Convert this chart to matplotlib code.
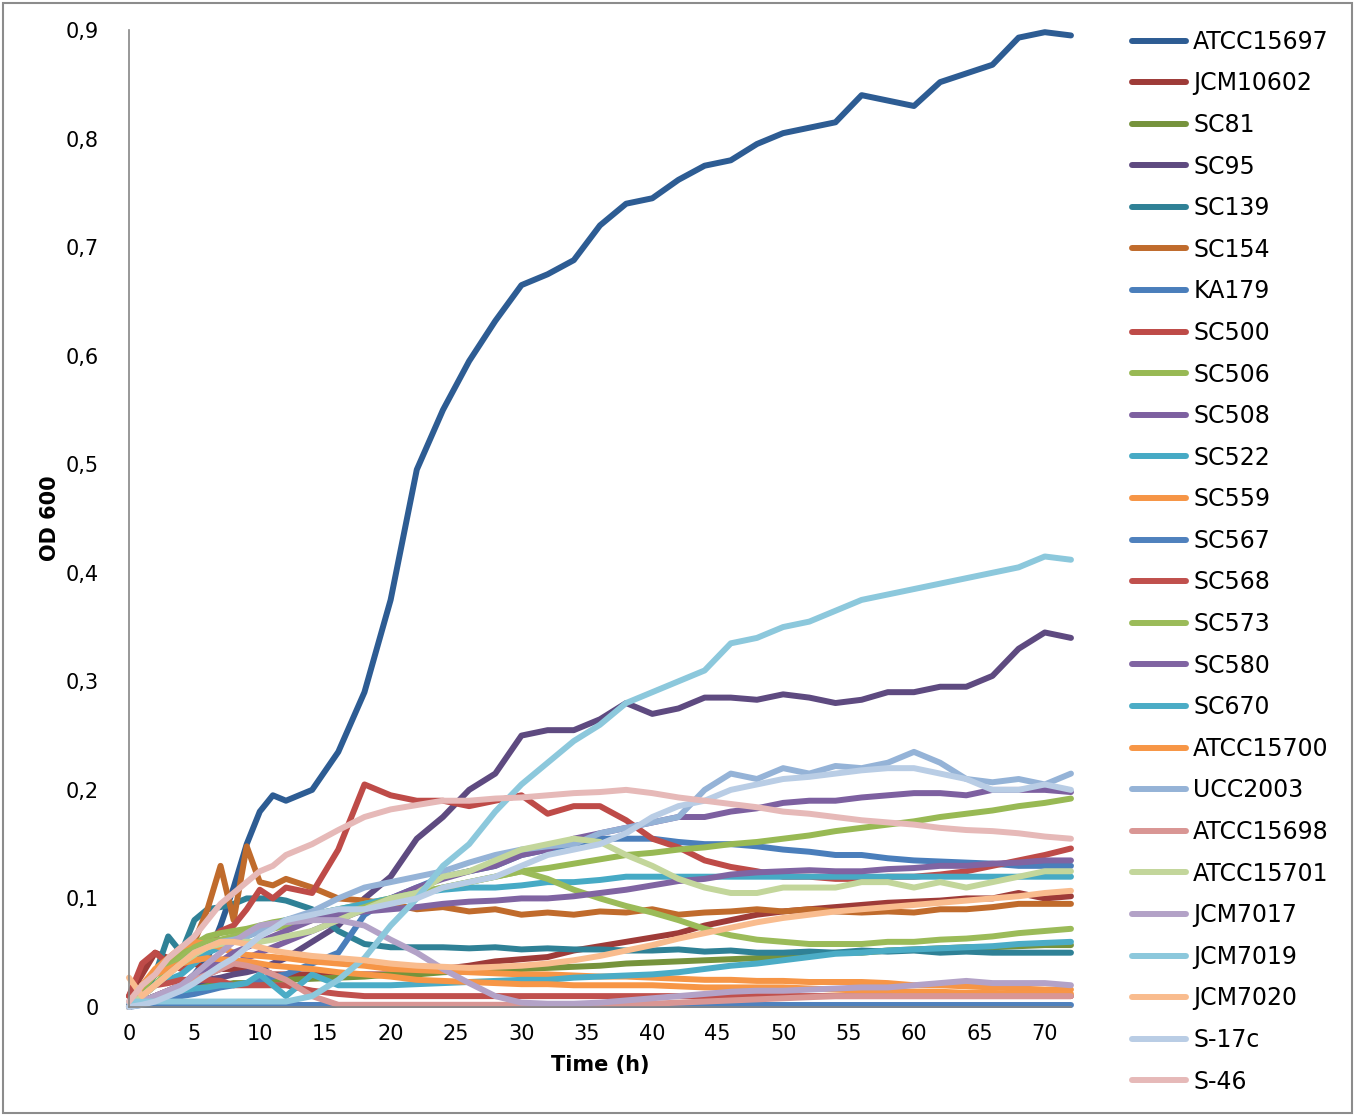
import matplotlib
matplotlib.use("Agg")
import matplotlib.pyplot as plt
from matplotlib.patches import Rectangle
from matplotlib.ticker import FuncFormatter, MultipleLocator
import numpy as np

# sampling times (h): hourly up to 12 h, then every 2 h
hours = [0, 1, 2, 3, 4, 5, 6, 7, 8, 9, 10, 11, 12,
         14, 16, 18, 20, 22, 24, 26, 28, 30, 32, 34, 36, 38, 40,
         42, 44, 46, 48, 50, 52, 54, 56, 58, 60, 62, 64, 66, 68, 70, 72]

strains = ["ATCC15697", "JCM10602", "SC81", "SC95", "SC139", "SC154", "KA179",
           "SC500", "SC506", "SC508", "SC522", "SC559", "SC567", "SC568",
           "SC573", "SC580", "SC670", "ATCC15700", "UCC2003", "ATCC15698",
           "ATCC15701", "JCM7017", "JCM7019", "JCM7020", "S-17c", "S-46"]

colors = ["#2D5C93", "#9E3B38", "#76933C", "#5E4A80", "#2F8196", "#C06B2C",
          "#4A7EBB", "#BE4B48", "#98B954", "#7D60A0", "#46AAC5", "#F69546",
          "#4F81BD", "#C0504D", "#9BBB59", "#8064A2", "#4BACC6", "#F79646",
          "#95B3D7", "#D99694", "#C3D69B", "#B3A2C7", "#8CC8DC", "#F9BC8E",
          "#B9CDE5", "#E6B9B8"]

# OD600 readings, one list per strain
atcc15697 = [0.0, 0.005, 0.01, 0.015, 0.02, 0.03, 0.045, 0.075, 0.11, 0.15, 0.18, 0.195, 0.19,
             0.20, 0.235, 0.29, 0.375, 0.495, 0.55, 0.595, 0.632, 0.665, 0.675, 0.688, 0.72, 0.74, 0.745,
             0.762, 0.775, 0.78, 0.795, 0.805, 0.81, 0.815, 0.84, 0.835, 0.83, 0.852, 0.86, 0.868, 0.893, 0.898, 0.895]
jcm10602 = [0.01, 0.03, 0.05, 0.045, 0.04, 0.04, 0.035, 0.035, 0.035, 0.035, 0.035, 0.03, 0.03,
            0.03, 0.03, 0.03, 0.03, 0.032, 0.035, 0.038, 0.042, 0.044, 0.046, 0.052, 0.056, 0.06, 0.064,
            0.068, 0.075, 0.08, 0.085, 0.088, 0.09, 0.092, 0.094, 0.096, 0.097, 0.098, 0.10, 0.10, 0.105, 0.10, 0.102]
sc81 = [0.0, 0.005, 0.01, 0.012, 0.015, 0.018, 0.02, 0.02, 0.022, 0.022, 0.024, 0.025, 0.025,
        0.026, 0.027, 0.028, 0.03, 0.03, 0.032, 0.033, 0.034, 0.035, 0.036, 0.037, 0.038, 0.04, 0.041,
        0.042, 0.043, 0.044, 0.045, 0.046, 0.048, 0.05, 0.05, 0.052, 0.053, 0.054, 0.055, 0.055, 0.056, 0.057, 0.057]
sc95 = [0.0, 0.005, 0.01, 0.012, 0.02, 0.022, 0.025, 0.027, 0.03, 0.032, 0.035, 0.04, 0.045,
        0.06, 0.075, 0.10, 0.12, 0.155, 0.175, 0.20, 0.215, 0.25, 0.255, 0.255, 0.265, 0.28, 0.27,
        0.275, 0.285, 0.285, 0.283, 0.288, 0.285, 0.28, 0.283, 0.29, 0.29, 0.295, 0.295, 0.305, 0.33, 0.345, 0.34]
sc139 = [0.0, 0.01, 0.03, 0.065, 0.05, 0.08, 0.09, 0.092, 0.095, 0.10, 0.10, 0.10, 0.098,
         0.09, 0.07, 0.058, 0.055, 0.055, 0.055, 0.054, 0.055, 0.053, 0.054, 0.053, 0.053, 0.052, 0.052,
         0.053, 0.051, 0.052, 0.05, 0.05, 0.051, 0.05, 0.052, 0.051, 0.052, 0.05, 0.051, 0.05, 0.05, 0.05, 0.05]
sc154 = [0.0, 0.02, 0.03, 0.04, 0.05, 0.06, 0.09, 0.13, 0.08, 0.148, 0.115, 0.112, 0.118,
         0.11, 0.10, 0.098, 0.095, 0.09, 0.092, 0.088, 0.09, 0.085, 0.087, 0.085, 0.088, 0.087, 0.09,
         0.085, 0.087, 0.088, 0.09, 0.088, 0.09, 0.088, 0.087, 0.088, 0.087, 0.09, 0.09, 0.092, 0.095, 0.095, 0.095]
ka179 = [0.0, 0.002, 0.005, 0.008, 0.01, 0.012, 0.015, 0.018, 0.02, 0.022, 0.025, 0.028, 0.03,
         0.04, 0.05, 0.085, 0.10, 0.11, 0.12, 0.125, 0.13, 0.14, 0.145, 0.15, 0.155, 0.155, 0.155,
         0.152, 0.15, 0.15, 0.148, 0.145, 0.143, 0.14, 0.14, 0.137, 0.135, 0.134, 0.133, 0.132, 0.13, 0.13, 0.13]
sc500 = [0.01, 0.04, 0.05, 0.04, 0.035, 0.045, 0.06, 0.07, 0.075, 0.09, 0.108, 0.10, 0.11,
         0.105, 0.145, 0.205, 0.195, 0.19, 0.19, 0.185, 0.19, 0.195, 0.178, 0.185, 0.185, 0.172, 0.155,
         0.147, 0.135, 0.129, 0.125, 0.12, 0.12, 0.118, 0.118, 0.12, 0.12, 0.122, 0.125, 0.13, 0.135, 0.14, 0.146]
sc506 = [0.0, 0.015, 0.03, 0.04, 0.05, 0.058, 0.065, 0.068, 0.07, 0.072, 0.075, 0.078, 0.08,
         0.085, 0.09, 0.095, 0.10, 0.105, 0.11, 0.115, 0.12, 0.125, 0.128, 0.132, 0.136, 0.14, 0.142,
         0.145, 0.147, 0.15, 0.152, 0.155, 0.158, 0.162, 0.165, 0.168, 0.171, 0.175, 0.178, 0.181, 0.185, 0.188, 0.192]
sc508 = [0.0, 0.005, 0.01, 0.015, 0.02, 0.025, 0.03, 0.035, 0.04, 0.045, 0.05, 0.055, 0.06,
         0.07, 0.08, 0.09, 0.10, 0.11, 0.118, 0.125, 0.13, 0.14, 0.145, 0.155, 0.16, 0.165, 0.17,
         0.175, 0.175, 0.18, 0.183, 0.188, 0.19, 0.19, 0.193, 0.195, 0.197, 0.197, 0.195, 0.20, 0.20, 0.20, 0.198]
sc522 = [0.0, 0.01, 0.02, 0.025, 0.03, 0.04, 0.05, 0.055, 0.06, 0.065, 0.07, 0.075, 0.08,
         0.085, 0.09, 0.095, 0.10, 0.105, 0.108, 0.11, 0.11, 0.112, 0.115, 0.115, 0.117, 0.12, 0.12,
         0.12, 0.12, 0.12, 0.12, 0.12, 0.12, 0.12, 0.12, 0.12, 0.12, 0.12, 0.12, 0.12, 0.12, 0.12, 0.12]
sc559 = [0.0, 0.02, 0.035, 0.045, 0.055, 0.06, 0.058, 0.055, 0.05, 0.048, 0.047, 0.046, 0.045,
         0.042, 0.04, 0.038, 0.035, 0.034, 0.033, 0.032, 0.031, 0.03, 0.03, 0.029, 0.028, 0.028, 0.027,
         0.026, 0.025, 0.025, 0.024, 0.024, 0.023, 0.023, 0.023, 0.022, 0.02, 0.02, 0.019, 0.018, 0.017, 0.016, 0.016]
sc567 = [0.002] * 43
sc568 = [0.0, 0.01, 0.02, 0.022, 0.025, 0.025, 0.025, 0.024, 0.02, 0.02, 0.02, 0.02, 0.02,
         0.015, 0.012, 0.01, 0.01, 0.01, 0.01, 0.01, 0.01, 0.01, 0.01, 0.01, 0.01, 0.01, 0.01,
         0.01, 0.01, 0.01, 0.01, 0.01, 0.01, 0.01, 0.01, 0.01, 0.01, 0.01, 0.01, 0.01, 0.01, 0.01, 0.01]
sc573 = [0.0, 0.01, 0.02, 0.035, 0.045, 0.055, 0.06, 0.062, 0.065, 0.068, 0.07, 0.072, 0.075,
         0.08, 0.085, 0.092, 0.10, 0.105, 0.11, 0.115, 0.12, 0.125, 0.118, 0.108, 0.10, 0.093, 0.087,
         0.08, 0.072, 0.066, 0.062, 0.06, 0.058, 0.058, 0.058, 0.06, 0.06, 0.062, 0.063, 0.065, 0.068, 0.07, 0.072]
sc580 = [0.0, 0.005, 0.01, 0.015, 0.02, 0.028, 0.035, 0.042, 0.05, 0.055, 0.06, 0.065, 0.07,
         0.08, 0.085, 0.088, 0.09, 0.092, 0.095, 0.097, 0.098, 0.10, 0.10, 0.102, 0.105, 0.108, 0.112,
         0.116, 0.118, 0.122, 0.124, 0.125, 0.126, 0.125, 0.125, 0.127, 0.128, 0.13, 0.13, 0.132, 0.133, 0.135, 0.135]
sc670 = [0.0, 0.005, 0.01, 0.012, 0.015, 0.017, 0.018, 0.02, 0.02, 0.022, 0.03, 0.02, 0.01,
         0.03, 0.02, 0.02, 0.02, 0.021, 0.022, 0.023, 0.024, 0.025, 0.025, 0.027, 0.028, 0.029, 0.03,
         0.032, 0.035, 0.038, 0.04, 0.043, 0.046, 0.049, 0.05, 0.052, 0.053, 0.054, 0.055, 0.056, 0.058, 0.059, 0.06]
atcc15700 = [0.0, 0.02, 0.03, 0.035, 0.04, 0.043, 0.045, 0.044, 0.043, 0.042, 0.04, 0.038, 0.037,
             0.035, 0.032, 0.03, 0.028, 0.025, 0.024, 0.023, 0.022, 0.021, 0.021, 0.02, 0.02, 0.02, 0.02,
             0.019, 0.018, 0.018, 0.018, 0.018, 0.017, 0.016, 0.015, 0.015, 0.014, 0.014, 0.013, 0.013, 0.012, 0.012, 0.012]
ucc2003 = [0.0, 0.01, 0.02, 0.03, 0.04, 0.05, 0.055, 0.06, 0.062, 0.065, 0.07, 0.075, 0.08,
           0.088, 0.10, 0.11, 0.115, 0.12, 0.125, 0.133, 0.14, 0.145, 0.148, 0.15, 0.16, 0.165, 0.17,
           0.175, 0.20, 0.215, 0.21, 0.22, 0.215, 0.222, 0.22, 0.225, 0.235, 0.225, 0.21, 0.207, 0.21, 0.205, 0.215]
atcc15698 = [0.0, 0.005, 0.01, 0.015, 0.02, 0.025, 0.03, 0.035, 0.04, 0.038, 0.035, 0.03, 0.025,
             0.01, 0.002, 0.002, 0.002, 0.002, 0.002, 0.002, 0.002, 0.002, 0.002, 0.002, 0.002, 0.003, 0.003,
             0.004, 0.005, 0.006, 0.007, 0.008, 0.009, 0.01, 0.01, 0.01, 0.01, 0.01, 0.01, 0.01, 0.01, 0.01, 0.01]
atcc15701 = [0.0, 0.01, 0.02, 0.03, 0.04, 0.048, 0.055, 0.058, 0.06, 0.06, 0.06, 0.062, 0.065,
             0.07, 0.08, 0.09, 0.10, 0.105, 0.12, 0.125, 0.135, 0.145, 0.15, 0.155, 0.152, 0.14, 0.13,
             0.118, 0.11, 0.105, 0.105, 0.11, 0.11, 0.11, 0.115, 0.115, 0.11, 0.115, 0.11, 0.115, 0.12, 0.125, 0.125]
jcm7017 = [0.0, 0.005, 0.01, 0.015, 0.02, 0.03, 0.04, 0.05, 0.06, 0.068, 0.075, 0.077, 0.078,
           0.08, 0.08, 0.075, 0.062, 0.05, 0.035, 0.022, 0.01, 0.004, 0.003, 0.003, 0.004, 0.006, 0.008,
           0.01, 0.012, 0.014, 0.015, 0.015, 0.016, 0.017, 0.018, 0.018, 0.02, 0.022, 0.024, 0.022, 0.022, 0.022, 0.02]
jcm7019 = [0.005, 0.005, 0.005, 0.005, 0.005, 0.005, 0.005, 0.005, 0.005, 0.005, 0.005, 0.005, 0.005,
           0.01, 0.025, 0.045, 0.075, 0.10, 0.13, 0.15, 0.18, 0.205, 0.225, 0.245, 0.26, 0.28, 0.29,
           0.30, 0.31, 0.335, 0.34, 0.35, 0.355, 0.365, 0.375, 0.38, 0.385, 0.39, 0.395, 0.40, 0.405, 0.415, 0.412]
jcm7020 = [0.027, 0.01, 0.02, 0.03, 0.04, 0.05, 0.055, 0.06, 0.06, 0.058, 0.055, 0.052, 0.05,
           0.047, 0.045, 0.043, 0.04, 0.038, 0.037, 0.036, 0.037, 0.038, 0.04, 0.043, 0.047, 0.052, 0.057,
           0.063, 0.068, 0.073, 0.078, 0.082, 0.085, 0.088, 0.09, 0.092, 0.094, 0.096, 0.098, 0.10, 0.102, 0.105, 0.107]
s17c = [0.0, 0.002, 0.005, 0.01, 0.015, 0.022, 0.03, 0.038, 0.045, 0.055, 0.065, 0.072, 0.08,
        0.085, 0.09, 0.09, 0.095, 0.10, 0.11, 0.115, 0.12, 0.13, 0.14, 0.145, 0.15, 0.16, 0.175,
        0.185, 0.19, 0.20, 0.205, 0.21, 0.212, 0.215, 0.218, 0.22, 0.22, 0.215, 0.21, 0.20, 0.20, 0.205, 0.20]
s46 = [0.005, 0.02, 0.03, 0.045, 0.055, 0.065, 0.08, 0.095, 0.105, 0.115, 0.125, 0.13, 0.14,
       0.15, 0.163, 0.175, 0.182, 0.186, 0.19, 0.19, 0.192, 0.193, 0.195, 0.197, 0.198, 0.20, 0.197,
       0.193, 0.19, 0.187, 0.184, 0.18, 0.178, 0.175, 0.172, 0.17, 0.168, 0.165, 0.163, 0.162, 0.16, 0.157, 0.155]

od600 = [atcc15697, jcm10602, sc81, sc95, sc139, sc154, ka179, sc500, sc506, sc508,
         sc522, sc559, sc567, sc568, sc573, sc580, sc670, atcc15700, ucc2003,
         atcc15698, atcc15701, jcm7017, jcm7019, jcm7020, s17c, s46]

fig = plt.figure(figsize=(13.56, 11.16), dpi=100)
ax = fig.add_axes([0.0951, 0.0977, 0.6947, 0.8754])

for name, vals, c in zip(strains, od600, colors):
    ax.plot(hours, vals, color=c, lw=4.3, label=name,
            solid_capstyle="round", solid_joinstyle="round", clip_on=False)

ax.set_xlim(0, 72)
ax.set_ylim(0, 0.9)
ax.xaxis.set_major_locator(MultipleLocator(5))
ax.yaxis.set_major_locator(MultipleLocator(0.1))
ax.yaxis.set_major_formatter(FuncFormatter(
    lambda v, p: "0" if abs(v) < 1e-9 else f"{v:.1f}".replace(".", ",")))
ax.tick_params(length=0, labelsize=15)
ax.tick_params(axis="x", pad=12)
ax.tick_params(axis="y", pad=22)

for s in ["top", "right"]:
    ax.spines[s].set_visible(False)
for s in ["left", "bottom"]:
    ax.spines[s].set_color("#868686")
    ax.spines[s].set_linewidth(1.2)

ax.set_xlabel("Time (h)", fontsize=15, fontweight="bold", labelpad=8)
ax.set_ylabel("OD 600", fontsize=15, fontweight="bold", labelpad=4)

ax.legend(loc="upper left", bbox_to_anchor=(1120 / 1356, 1 - 18 / 1116),
          bbox_transform=fig.transFigure, frameon=False, fontsize=17,
          handlelength=2.3, handletextpad=0.3, labelspacing=0.745, borderpad=0)

# grey frame round the whole chart
fig.patches.append(Rectangle((0.002, 0.003), 0.995, 0.994, transform=fig.transFigure,
                             fill=False, edgecolor="#8c8c8c", lw=1.5))

fig.savefig("out.png", dpi=100)
